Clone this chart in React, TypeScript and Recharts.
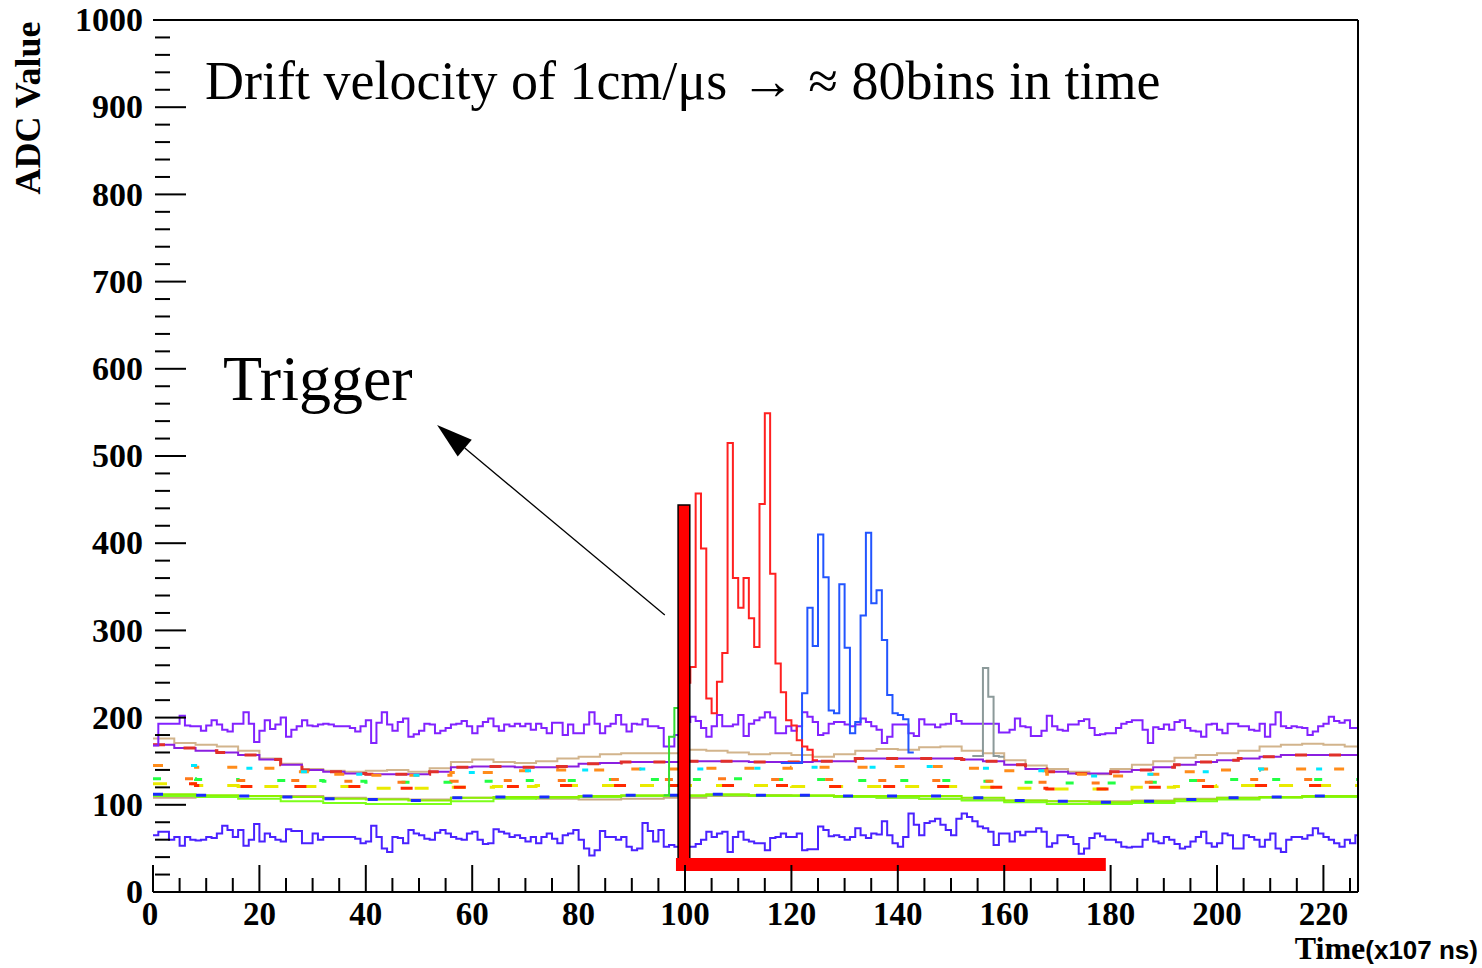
import React from "react";
import { LineChart, Line, XAxis, YAxis, ReferenceLine, ReferenceArea } from "recharts";

const W = 1482;
const H = 968;
const LEFT = 153;
const TOP = 20;
const RIGHT = 1358;
const BOTTOM = 892;
const X_MAX = 226.5;

const SERIF = "'Liberation Serif', 'Times New Roman', serif";
const SANS = "'Liberation Sans', Arial, sans-serif";

// ticks
const xTicks = [0, 5, 10, 15, 20, 25, 30, 35, 40, 45, 50, 55, 60, 65, 70, 75, 80, 85, 90, 95, 100, 105, 110, 115, 120, 125, 130, 135, 140, 145, 150, 155, 160, 165, 170, 175, 180, 185, 190, 195, 200, 205, 210, 215, 220, 225];
const yTicks = [0, 20, 40, 60, 80, 100, 120, 140, 160, 180, 200, 220, 240, 260, 280, 300, 320, 340, 360, 380, 400, 420, 440, 460, 480, 500, 520, 540, 560, 580, 600, 620, 640, 660, 680, 700, 720, 740, 760, 780, 800, 820, 840, 860, 880, 900, 920, 940, 960, 980, 1000];

// one value per time bin (0..226)
const upperNoise = [
  168, 193, 193, 193, 193, 202, 191, 190, 190, 185,
  191, 197, 192, 186, 184, 193, 193, 206, 193, 172,
  185, 197, 187, 192, 200, 178, 186, 190, 197, 191,
  190, 192, 193, 192, 190, 190, 190, 188, 184, 190,
  197, 171, 194, 206, 192, 185, 195, 199, 178, 181,
  185, 193, 192, 182, 185, 188, 192, 193, 196, 190,
  182, 190, 195, 199, 190, 185, 192, 190, 193, 190,
  193, 186, 193, 188, 182, 194, 194, 180, 192, 182,
  182, 192, 206, 193, 182, 190, 193, 203, 192, 184,
  193, 192, 198, 190, 190, 188, 167, 167, 180, 190,
  195, 201, 196, 188, 178, 190, 203, 190, 190, 192,
  203, 179, 193, 197, 200, 206, 200, 182, 182, 190,
  185, 190, 206, 201, 195, 180, 182, 193, 195, 195,
  192, 190, 192, 199, 195, 190, 186, 171, 178, 192,
  192, 192, 182, 179, 198, 192, 192, 189, 192, 193,
  204, 196, 193, 193, 193, 193, 193, 193, 193, 183,
  183, 186, 199, 190, 189, 179, 179, 185, 202, 190,
  186, 185, 192, 192, 196, 198, 188, 180, 181, 182,
  182, 188, 193, 195, 197, 197, 186, 171, 189, 187,
  192, 186, 195, 197, 188, 185, 184, 178, 192, 193,
  186, 182, 193, 193, 190, 190, 186, 185, 193, 178,
  192, 206, 190, 188, 190, 189, 188, 180, 184, 190,
  193, 201, 196, 194, 197, 188, 188,
];

const lowerNoise = [
  65, 69, 69, 60, 63, 53, 63, 60, 59, 60,
  63, 62, 67, 76, 71, 63, 71, 53, 60, 78,
  58, 67, 63, 60, 58, 72, 70, 70, 56, 56,
  67, 60, 63, 63, 63, 63, 63, 63, 61, 56,
  58, 76, 63, 50, 46, 63, 62, 56, 71, 67,
  65, 61, 60, 68, 71, 67, 63, 61, 60, 67,
  69, 60, 55, 56, 72, 69, 67, 63, 65, 62,
  58, 63, 56, 63, 67, 61, 56, 65, 67, 71,
  60, 50, 42, 48, 70, 63, 63, 60, 63, 52,
  48, 50, 79, 70, 58, 71, 52, 54, 52, 52,
  52, 52, 55, 60, 69, 63, 67, 69, 46, 63,
  69, 60, 58, 56, 56, 48, 62, 63, 67, 63,
  63, 67, 48, 49, 49, 75, 71, 64, 65, 63,
  60, 63, 73, 65, 62, 67, 66, 81, 65, 56,
  52, 63, 90, 77, 65, 79, 81, 84, 77, 71,
  65, 84, 90, 86, 81, 75, 73, 69, 54, 67,
  67, 58, 69, 65, 69, 69, 73, 69, 52, 56,
  65, 65, 63, 55, 44, 50, 62, 67, 64, 60,
  60, 57, 52, 51, 52, 52, 60, 67, 58, 56,
  63, 60, 55, 50, 52, 58, 63, 69, 56, 52,
  56, 67, 65, 50, 50, 65, 63, 60, 52, 60,
  67, 50, 46, 60, 63, 63, 61, 65, 73, 67,
  63, 60, 56, 52, 60, 56, 65,
];

// pulses (first bin given separately)
const redStart = 99;
const redPulse = [150, 240, 258, 457, 394, 222, 205, 241, 274, 515, 360, 326, 360, 314, 281, 445, 549, 365, 262, 229, 197, 191, 174, 167, 163, 151];
const blueStart = 118;
const bluePulse = [148, 148, 148, 148, 228, 326, 282, 410, 361, 208, 205, 353, 280, 182, 195, 317, 412, 331, 346, 289, 226, 205, 203, 198, 160];
const grayStart = 154;
const grayPulse = [156, 156, 257, 224, 156, 155];
const greenStart = 96;
const greenSpike = [111, 178, 211, 150];

// slow baselines, one value every 4 bins
const tanUpper = [176, 171, 169, 167, 162, 153, 147, 141, 139, 138, 139, 140, 138, 142, 149, 152, 149, 148, 150, 153, 155, 158, 159, 159, 159, 163, 162, 160, 158, 159, 157, 155, 158, 162, 164, 163, 166, 167, 162, 159, 151, 145, 141, 138, 135, 141, 146, 150, 154, 157, 159, 162, 167, 169, 170, 169, 167];
const midBand = [169, 165, 162, 160, 157, 152, 146, 140, 138, 136, 135, 135, 135, 138, 143, 144, 144, 143, 143, 144, 147, 148, 149, 149, 149, 150, 150, 150, 149, 149, 149, 150, 150, 153, 153, 153, 153, 153, 152, 150, 146, 141, 138, 136, 136, 138, 140, 143, 146, 149, 151, 153, 155, 157, 157, 157, 157];

// one value every 8 bins
const bandB = [145, 143, 142, 138, 135, 134, 134, 137, 139, 140, 140, 141, 141, 142, 142, 143, 143, 144, 144, 142, 139, 135, 133, 135, 138, 140, 141, 141, 141];
const bandC = [130, 129, 128, 128, 127, 126, 126, 127, 128, 128, 129, 129, 129, 130, 129, 129, 128, 128, 128, 127, 126, 125, 125, 126, 128, 129, 129, 129, 129];
const bandD = [124, 122, 121, 121, 121, 119, 119, 120, 121, 122, 122, 122, 122, 122, 122, 121, 121, 121, 121, 120, 119, 118, 118, 120, 121, 122, 122, 122, 122];
const greenHigh = [112, 111, 110, 109, 107, 106, 105, 108, 109, 109, 110, 111, 111, 112, 111, 111, 110, 110, 110, 108, 105, 104, 103, 104, 106, 108, 109, 110, 110];
const greenLow = [110, 109, 107, 104, 102, 101, 101, 104, 107, 108, 109, 110, 110, 111, 110, 110, 109, 108, 107, 105, 103, 101, 101, 102, 104, 106, 108, 109, 109];
const tanLower = [108, 109, 110, 110, 108, 107, 106, 108, 108, 107, 106, 107, 108, 110, 111, 110, 109, 108, 107, 106, 105, 104, 104, 105, 107, 108, 109, 109, 109];

const steps = (vals: number[], start: number, step = 1) => {
  const pts = vals.map((v, i) => ({ x: start + i * step, y: v }));
  pts.push({ x: start + vals.length * step, y: vals[vals.length - 1] });
  return pts;
};

const YTick = (props: any) => {
  const { y, payload } = props;
  const v = payload.value;
  const major = v % 100 === 0;
  return (
    <g>
      <line x1={LEFT + 2} x2={LEFT + (major ? 33 : 17)} y1={y} y2={y} stroke="#000" strokeWidth={2} />
      {major && (
        <text x={LEFT - 10} y={y} dy="0.33em" textAnchor="end" fontFamily={SERIF} fontWeight="bold" fontSize={34} fill="#000">
          {v}
        </text>
      )}
    </g>
  );
};

const XTick = (props: any) => {
  const { x, payload } = props;
  const v = payload.value;
  const major = v % 20 === 0;
  return (
    <g>
      <line x1={x} x2={x} y1={BOTTOM} y2={BOTTOM - (major ? 27 : 14)} stroke="#000" strokeWidth={2} />
      {major && (
        <text x={v === 0 ? x - 3 : x} y={925} textAnchor="middle" fontFamily={SERIF} fontWeight="bold" fontSize={33} fill="#000">
          {v}
        </text>
      )}
    </g>
  );
};

const Arrow = (props: any) => {
  const { x1, y1, x2, y2 } = props;
  const ang = Math.atan2(y2 - y1, x2 - x1);
  const len = 36;
  const hw = 11;
  const bx = x2 - len * Math.cos(ang);
  const by = y2 - len * Math.sin(ang);
  const px = -Math.sin(ang) * hw;
  const py = Math.cos(ang) * hw;
  return (
    <g>
      <line x1={x1} y1={y1} x2={bx} y2={by} stroke="#000" strokeWidth={1.3} />
      <polygon points={`${x2},${y2} ${bx + px},${by + py} ${bx - px},${by - py}`} fill="#000" />
    </g>
  );
};

const line = (key: string, data: any[], color: string, extra: any = {}) => (
  <Line
    key={key}
    data={data}
    dataKey="y"
    type="stepAfter"
    stroke={color}
    strokeWidth={2}
    dot={false}
    activeDot={false}
    isAnimationActive={false}
    {...extra}
  />
);

export default function App() {
  const noiseUp = steps(upperNoise, 0);
  const noiseLow = steps(lowerNoise, 0);
  return (
    <div style={{ position: "absolute", left: 0, top: 0, width: W, height: H, background: "#fff" }}>
      <LineChart width={W} height={H} margin={{ top: TOP, right: W - RIGHT, bottom: 0, left: 0 }}>
        <XAxis
          type="number"
          dataKey="x"
          domain={[0, X_MAX]}
          allowDataOverflow
          ticks={xTicks}
          interval={0}
          height={H - BOTTOM}
          axisLine={{ stroke: "#000", strokeWidth: 2 }}
          tickLine={false}
          tick={<XTick />}
        />
        <YAxis
          type="number"
          domain={[0, 1000]}
          allowDataOverflow
          ticks={yTicks}
          interval={0}
          width={LEFT}
          axisLine={false}
          tickLine={false}
          tick={<YTick />}
        />
        {line("tanU", steps(tanUpper, 0, 4), "#d2b48c")}
        {line("tanL", steps(tanLower, 0, 8), "#c8a882")}
        {line("grL", steps(greenLow, 0, 8), "#7cff1a")}
        {line("grH", steps(greenHigh, 0, 8), "#8cf000")}
        {line("grBlue", steps(greenHigh, 0, 8), "#1a2bff", { strokeDasharray: "10 34", strokeWidth: 3 })}
        {line("mid", steps(midBand, 0, 4), "#8a1fe0")}
        {line("midRed", steps(midBand, 0, 4), "#e0302a", { strokeDasharray: "12 22", strokeWidth: 3 })}
        {line("bBor", steps(bandB, 0, 8), "#ff8c1a", { strokeDasharray: "10 28", strokeWidth: 3 })}
        {line("bCy", steps(bandB, 0, 8), "#00e8ff", { strokeDasharray: "6 52", strokeDashoffset: 20, strokeWidth: 3 })}
        {line("cGr", steps(bandC, 0, 8), "#22ff44", { strokeDasharray: "8 34", strokeWidth: 3 })}
        {line("cOr", steps(bandC, 0, 8), "#ff7a1a", { strokeDasharray: "8 46", strokeDashoffset: 22, strokeWidth: 3 })}
        {line("dYe", steps(bandD, 0, 8), "#eaea00", { strokeDasharray: "14 24", strokeWidth: 3 })}
        {line("dRe", steps(bandD, 0, 8), "#ff2a00", { strokeDasharray: "12 42", strokeDashoffset: 18, strokeWidth: 3 })}
        {line("low", noiseLow, "#4a22ff")}
        {line("up", noiseUp, "#8222ff")}
        {line("gray", steps(grayPulse, grayStart), "#8c9a9a")}
        {line("green", steps(greenSpike, greenStart), "#33dd33")}
        {line("blue", steps(bluePulse, blueStart), "#2255ff")}
        {line("red", steps(redPulse, redStart), "#ff2020")}
        <ReferenceLine y={1000} stroke="#000" strokeWidth={2} />
        <ReferenceLine x={X_MAX} stroke="#000" strokeWidth={2} />
        <ReferenceLine
          segment={[{ x: 96.2, y: 317.7 }, { x: 53.4, y: 535.5 }]}
          shape={<Arrow />}
          ifOverflow="visible"
        />
        <ReferenceArea x1={98.7} x2={100.9} y1={33} y2={443.8} fill="#ff0000" fillOpacity={1} stroke="#000" strokeWidth={1.5} zIndex={900} />
        <ReferenceArea x1={98.3} x2={179.1} y1={24} y2={39} fill="#ff0000" fillOpacity={1} stroke="none" zIndex={901} />
      </LineChart>
      <svg width={W} height={H} style={{ position: "absolute", left: 0, top: 0, pointerEvents: "none" }}>
        <text x={205} y={99} fontFamily={SERIF} fontSize={54} fill="#000">
          Drift velocity of 1cm/μs → ≈ 80bins in time
        </text>
        <text x={223} y={400} fontFamily={SERIF} fontSize={64} fill="#000">
          Trigger
        </text>
        <text transform="translate(40,108) rotate(-90)" textAnchor="middle" fontFamily={SERIF} fontWeight="bold" fontSize={36} fill="#000">
          ADC Value
        </text>
        <text x={1478} y={959} textAnchor="end" fill="#000" fontWeight="bold">
          <tspan fontFamily={SERIF} fontSize={32}>Time</tspan>
          <tspan fontFamily={SANS} fontSize={26}>(x107 ns)</tspan>
        </text>
      </svg>
    </div>
  );
}
